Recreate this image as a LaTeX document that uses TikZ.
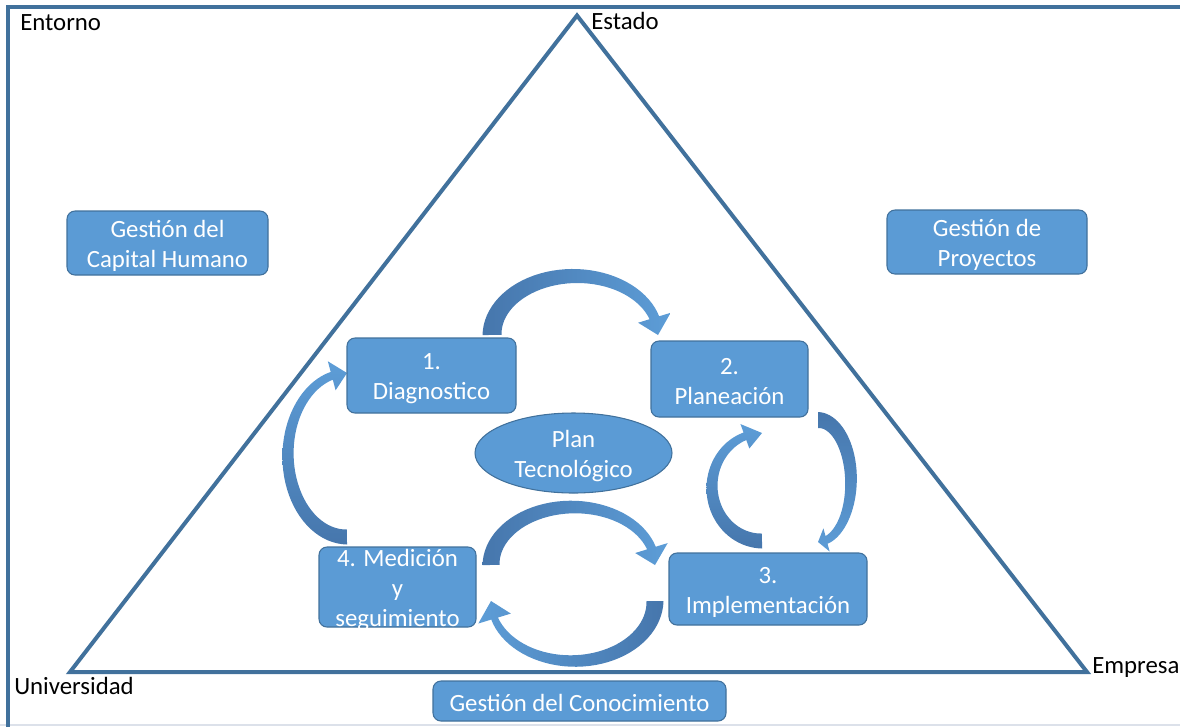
\documentclass[tikz,border=0pt]{standalone}
\usepackage{fontspec}
\usetikzlibrary{shapes.geometric}
\setmainfont{Carlito}
\definecolor{boxfill}{HTML}{5B9BD5}
\definecolor{boxline}{HTML}{41719C}
\definecolor{framecol}{HTML}{41719C}
\definecolor{arrowdark}{HTML}{4676AC}
\definecolor{arrowlight}{HTML}{5D9DD7}
\definecolor{edgegray}{HTML}{DCE1EA}
\newcommand\lblfont{\fontsize{18.6}{22.5}\selectfont}

% widths of a bent arrow: tail width / head-end band width / head half-width
\def\bendwidths#1/#2/#3\relax{\def\bwt{#1}\def\bwh{#2}\def\bhw{#3}}
% #1 shading, #2 #3 centre, #4 #5 radii, #6 tail angle, #7 head base angle,
% #8 tip angle, #9 widths
\newcommand\bendarrow[9]{%
  \bendwidths#9\relax
  \shade[#1]
    plot[domain=#6:#7, samples=40, variable=\t]
      ({#2+(#4+(\bwt+(\bwh-\bwt)*(\t-(#6))/((#7)-(#6)))/2)*cos(\t)},
       {#3+(#5+(\bwt+(\bwh-\bwt)*(\t-(#6))/((#7)-(#6)))/2)*sin(\t)})
    -- ({#2+(#4+\bhw)*cos(#7)},{#3+(#5+\bhw)*sin(#7)})
    -- ({#2+#4*cos(#8)},{#3+#5*sin(#8)})
    -- ({#2+(#4-\bhw)*cos(#7)},{#3+(#5-\bhw)*sin(#7)})
    -- plot[domain=0:1, samples=40, variable=\u]
      ({#2+(#4-(\bwh+(\bwt-\bwh)*\u)/2)*cos((#7)-\u*((#7)-(#6)))},
       {#3+(#5-(\bwh+(\bwt-\bwh)*\u)/2)*sin((#7)-\u*((#7)-(#6)))})
    -- cycle;
}

\begin{document}
\begin{tikzpicture}[x=0.75pt,y=-0.75pt,
  box/.style={draw=boxline, line width=0.8pt, fill=boxfill, rounded corners=6pt,
    inner sep=0pt},
  boxtext/.style={text=white, align=center, inner sep=0pt, font=\lblfont},
  corner/.style={text=black, inner sep=0pt, font=\lblfont, anchor=base west},
  tri/.style={draw=framecol, line width=3pt, line join=miter},
  frameline/.style={draw=framecol, line width=3pt}]

\useasboundingbox (0,0) rectangle (1180,726);
\clip (0,0) rectangle (1180,726);

% outer frame
\draw[edgegray, line width=0.8pt] (0,725) -- (1180,725);
\draw[frameline] (8,740) -- (8,6.5) -- (1195,6.5);

% triangle
\coordinate (apex) at (577,15.5);
\coordinate (bl) at (70,672);
\coordinate (br) at (1087,672);
\draw[tri] (apex) -- (br) -- (bl) -- cycle;

% corner labels
\node[corner] (entorno) at (20,30) {Entorno};
\node[corner] (estado) at (591,29) {Estado};
\node[corner] (univ) at (14,694) {Universidad};
\node[corner] (empresa) at (1092,673) {Empresa};

% cycle arrows
\bendarrow{left color=arrowdark, right color=arrowlight}{575}{335}{83}{59}{180}{343}{360}{19/10/17}
\bendarrow{top color=arrowdark, bottom color=arrowlight}{818}{481}{33}{61}{-90}{75}{90}{16/8/12}
\bendarrow{bottom color=arrowdark, top color=arrowlight}{762}{487}{50}{54}{90}{250}{270}{15/8/13}
\bendarrow{left color=arrowdark, right color=arrowlight}{573}{565}{82}{58}{180}{343}{360}{17/9/17}
\bendarrow{right color=arrowdark, left color=arrowlight}{573}{601}{82}{60}{0}{163}{180}{17/7/17}
\bendarrow{bottom color=arrowdark, top color=arrowlight}{347}{455}{59}{82}{90}{255}{270}{15/8/15}

% management boxes
\node[box, minimum width=150.75pt, minimum height=48pt] (capital) at (167.5,243) {};
\node[boxtext] (capitalt) at ([yshift=-2.25pt]capital.center) {Gestión del\\Capital Humano};
\node[box, minimum width=150pt, minimum height=48pt] (proyectos) at (987,242) {};
\node[boxtext] (proyectost) at ([yshift=-2.25pt]proyectos.center) {Gestión de\\Proyectos};
\node[box, minimum width=219.75pt, minimum height=30pt] (conoc) at (579.5,701) {};
\node[boxtext] (conoct) at ([yshift=-1.5pt]conoc.center) {Gestión del Conocimiento};

% cycle steps
\node[box, minimum width=126.75pt, minimum height=56.25pt] (diag) at (431.5,375.5) {};
\node[boxtext] (diagt) at ([yshift=-2.25pt]diag.center) {1.\\Diagnostico};
\node[box, minimum width=117.75pt, minimum height=57pt] (plan) at (729.5,379) {};
\node[boxtext] (plant) at ([yshift=-2.25pt]plan.center) {2.\\Planeación};
\node[box, minimum width=148.5pt, minimum height=54pt] (impl) at (768,589) {};
\node[boxtext] (implt) at ([yshift=-2.25pt]impl.center) {3.\\Implementación};
\node[box, minimum width=117.75pt, minimum height=60pt] (medic) at (397.5,587) {};
\node[boxtext] (medict) at ([yshift=-2.25pt]medic.center) {4. Medición\\y\\seguimiento};

% centre
\node[box, ellipse, rounded corners=0pt, minimum width=147.75pt, minimum height=60pt] (tecno) at (573.5,453) {};
\node[boxtext] (tecnot) at ([yshift=-2.25pt]tecno.center) {Plan\\Tecnológico};

\end{tikzpicture}
\end{document}
